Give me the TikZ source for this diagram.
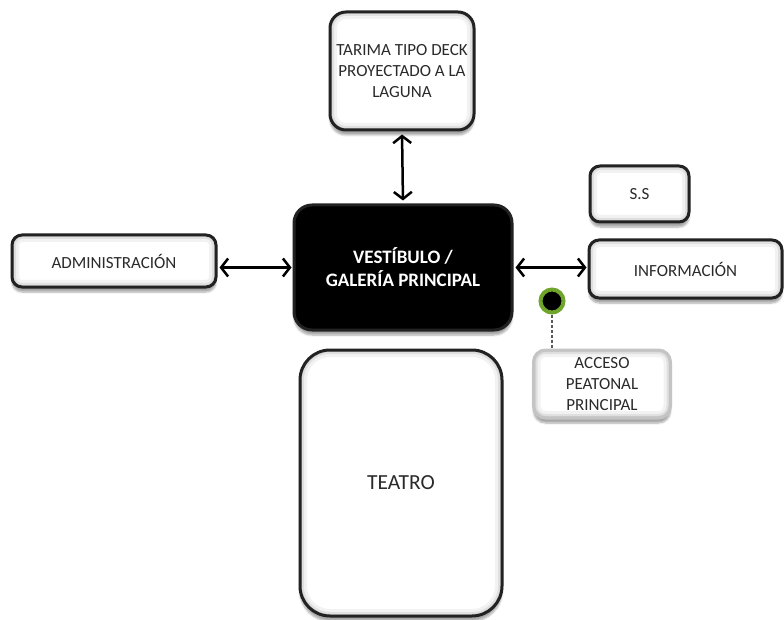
\documentclass[tikz,border=0pt]{standalone}
\usepackage{fontspec}
\setmainfont{Carlito}
\usetikzlibrary{arrows.meta,shadows.blur}
\definecolor{edgec}{HTML}{222222}
\definecolor{txtc}{HTML}{2A2A2A}
\definecolor{grn}{HTML}{6FA52A}
\definecolor{lgray}{HTML}{C4C4C4}
\tikzset{
  glow/.style={path picture={
    \draw[black, opacity=0.05, line width=14pt, rounded corners=#1] (path picture bounding box.south west) rectangle (path picture bounding box.north east);
    \draw[black, opacity=0.07, line width=8pt, rounded corners=#1] (path picture bounding box.south west) rectangle (path picture bounding box.north east);
    \draw[black, opacity=0.08, line width=4pt, rounded corners=#1] (path picture bounding box.south west) rectangle (path picture bounding box.north east);}},
  box/.style={draw=edgec, line width=3pt, fill=white, rectangle, align=center,
    text=txtc, font=\fontsize{17}{21}\selectfont, inner sep=0pt,
    blur shadow={shadow xshift=0pt, shadow yshift=-5pt, shadow blur steps=6, shadow opacity=35}},
  dark/.style={box, fill=black, text=white, font=\bfseries\fontsize{19}{23}\selectfont},
  gbox/.style={box, draw=lgray},
  arr/.style={{Straight Barb[length=7pt,width=18pt]}-{Straight Barb[length=7pt,width=18pt]}, line width=2.5pt, black},
}
\begin{document}
\begin{tikzpicture}[x=1pt,y=-1pt]
\useasboundingbox (0,0) rectangle (784,620);
\node[box, glow=16pt, minimum width=144, minimum height=118, rounded corners=16pt] (tarima) at (402,71) {TARIMA TIPO DECK\\PROYECTADO A LA\\LAGUNA};
\node[dark, minimum width=218, minimum height=125, rounded corners=18pt] (vest) at (403,267.5) {VESTÍBULO /\\GALERÍA PRINCIPAL};
\node[box, glow=10pt, minimum width=204, minimum height=52, rounded corners=10pt] (admin) at (114,261) {ADMINISTRACIÓN};
\node[box, glow=10pt, minimum width=99, minimum height=56, rounded corners=10pt] (ss) at (639.5,194) {S.S};
\node[box, glow=10pt, minimum width=193, minimum height=58, rounded corners=10pt] (info) at (685.5,269) {INFORMACIÓN};
\node[gbox, glow=12pt, minimum width=137, minimum height=68, rounded corners=12pt] (acc) at (602,384) {ACCESO\\PEATONAL\\PRINCIPAL};
\node[box, glow=30pt, minimum width=202, minimum height=266, rounded corners=30pt, font=\fontsize{21.5}{25}\selectfont] (teatro) at (401,483) {TEATRO};
\node[circle, draw=grn, fill=black, line width=4pt, minimum size=23pt, inner sep=0pt] (dot) at (552,301) {};
\draw[arr, shorten <=3pt, shorten >=3pt] (tarima.south) -- (vest.north);
\draw[arr, shorten <=2pt, shorten >=1pt] (admin.east |- vest.west) -- (vest.west);
\draw[arr, shorten <=2pt, shorten >=1pt] (vest.east) -- (info.west |- vest.east);
\draw[black!65, dash pattern=on 3pt off 2pt, line width=1.2pt] (dot.south) -- (dot.south |- acc.north);
\end{tikzpicture}
\end{document}
